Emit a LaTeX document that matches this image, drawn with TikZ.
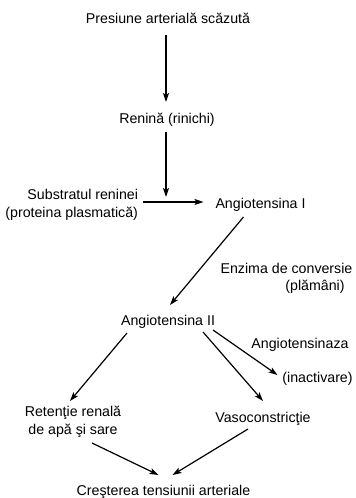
\documentclass[tikz,border=0pt]{standalone}
\usepackage{fontspec}
\setmainfont{Liberation Sans}
\usetikzlibrary{arrows.meta,calc}

\begin{document}
\begin{tikzpicture}[x=1pt,y=-1pt,
  lbl/.style={inner sep=0pt,outer sep=0pt,font=\fontsize{14.2}{17.5}\selectfont},
  arr/.style={line width=1.2pt,-{Stealth[length=9pt,width=6pt,inset=2pt]}},
  plain/.style={line width=1.2pt}]
  \useasboundingbox (0,0) rectangle (356,498);

  % labels of the cascade
  \node[lbl,anchor=base] (pres) at (168,23) {Presiune arterială scăzută};
  \node[lbl,anchor=base] (ren) at (167,123) {Renină (rinichi)};
  \node[lbl,anchor=east,align=right] (sub) at (138,205) {Substratul reninei\\(proteina plasmatică)};
  \node[lbl,anchor=base] (angI) at (260.5,208) {Angiotensina I};
  \node[lbl,anchor=base] (enz) at (286.5,273) {Enzima de conversie};
  \node[lbl,anchor=base] (plam) at (315,290) {(plămâni)};
  \node[lbl,anchor=base] (angII) at (168,325) {Angiotensina II};
  \node[lbl,anchor=base] (aza) at (300,348) {Angiotensinaza};
  \node[lbl,anchor=base] (inact) at (317.5,382) {(inactivare)};
  \node[lbl,align=center] (ret) at (73,422) {Retenţie renală\\de apă şi sare};
  \node[lbl,anchor=base] (vaso) at (263,422) {Vasoconstricţie};
  \node[lbl,anchor=base] (cre) at (163.5,495) {Creşterea tensiunii arteriale};

  % point where renin meets the substrate line
  \coordinate (join) at (166,197);

  % connectors
  \draw[arr] ($(pres.base)+(-2,12)$) -- ($(ren.base)+(-1,-21)$);
  \draw[arr] ($(ren.base)+(-1,9)$) -- (join);
  \draw[arr] ($(sub.east)+(5,-3)$) -- ($(angI.base)+(-57,-6)$);
  \draw[arr] ($(angI.base)+(-17,9)$) -- ($(angII.base)+(2,-20)$);
  \draw[arr] ($(angII.base)+(-41,8)$) -- ($(ret.center)+(-3,-21)$);
  \draw[arr] ($(angII.base)+(35,7)$) -- ($(vaso.base)+(0,-21)$);
  \draw[arr] ($(angII.base)+(45,5)$) -- ($(inact.base)+(-40,-7)$);
  \draw[arr] ($(ret.center)+(19,21)$) -- ($(cre.base)+(-5,-20)$);
  \draw[arr] ($(vaso.base)+(-15,7)$) -- ($(cre.base)+(9,-20)$);
\end{tikzpicture}
\end{document}
